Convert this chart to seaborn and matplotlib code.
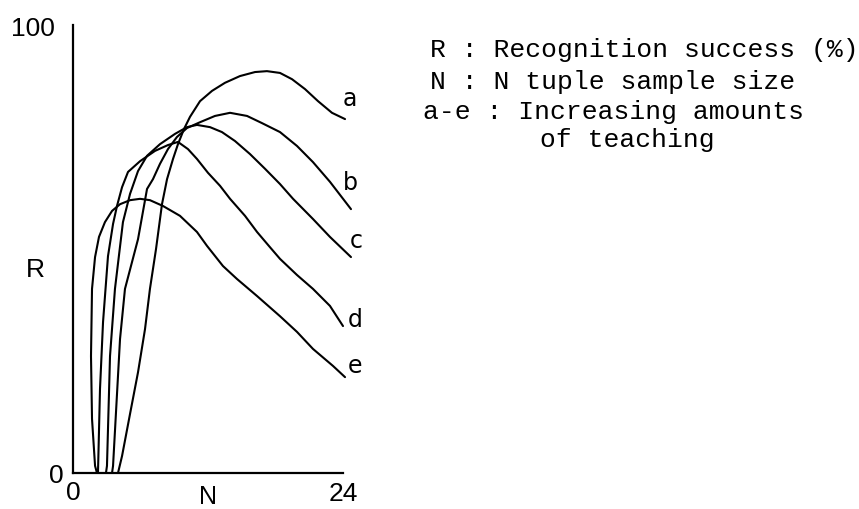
import matplotlib
matplotlib.use("Agg")
import matplotlib.pyplot as plt
import seaborn as sns
import pandas as pd

# Recognition success R (%) against N tuple sample size, for five teaching levels
a_x = [4.0, 4.36, 5.07, 5.78, 6.4, 6.84, 7.38, 7.91, 8.36, 8.89, 9.33, 9.87, 10.4, 11.29,
       12.36, 13.51, 14.84, 16.18, 17.24, 18.4, 19.47, 20.62, 21.78, 23.02, 24.18]
a_y = [0, 3.8, 13.2, 22.5, 32.1, 41.1, 50.0, 60.0, 65.6, 70.1, 73.4, 76.8, 79.5, 83.0,
       85.3, 87.1, 88.6, 89.5, 89.7, 89.3, 87.9, 85.7, 83.0, 80.4, 79.0]

b_x = [3.47, 3.56, 4.18, 4.62, 5.78, 6.58, 7.11, 7.73, 8.44, 9.24, 10.13, 11.29, 12.62,
       13.96, 15.47, 16.8, 18.4, 19.91, 21.33, 22.84, 24.71]
b_y = [0, 1.6, 29.9, 41.1, 52.2, 63.4, 65.6, 69.0, 72.3, 75.0, 77.0, 78.3, 79.7,
       80.4, 79.7, 78.1, 76.1, 73.0, 69.4, 65.0, 58.9]

c_x = [2.93, 3.02, 3.29, 3.73, 4.44, 5.07, 5.78, 6.58, 7.73, 9.07, 10.13, 11.02, 12.18,
       13.24, 14.4, 15.73, 17.07, 18.4, 19.56, 21.33, 22.84, 24.71]
c_y = [0, 1.6, 26.1, 41.1, 56.0, 62.3, 67.4, 70.8, 73.4, 75.7, 77.2, 77.7, 77.2,
       76.1, 74.1, 71.2, 67.9, 64.5, 61.2, 56.7, 52.7, 48.2]

d_x = [2.22, 2.4, 2.67, 3.11, 3.56, 3.91, 4.36, 4.89, 5.96, 7.29, 8.44, 9.33, 10.22,
       11.02, 12.0, 13.07, 13.96, 15.29, 16.36, 17.51, 18.4, 19.91, 21.33, 22.84, 24.0]
d_y = [0, 18.75, 33.7, 48.4, 55.6, 59.6, 63.8, 67.2, 69.6, 71.9, 73.2, 73.9, 72.3,
       70.1, 67.0, 64.1, 61.2, 57.4, 53.8, 50.4, 47.8, 44.2, 41.1, 37.3, 32.8]

e_x = [2.13, 1.96, 1.69, 1.60, 1.69, 1.96, 2.31, 2.84, 3.47, 4.18, 5.07, 5.96, 6.84,
       8.0, 9.51, 11.02, 11.91, 13.33, 14.58, 16.36, 18.4, 19.91, 21.33, 23.11, 24.18]
e_y = [0, 1.6, 12.1, 26.1, 41.1, 48.2, 52.7, 56.0, 58.5, 60.0, 60.9, 61.2, 60.9,
       59.6, 57.4, 53.8, 50.7, 46.2, 43.3, 39.5, 35.0, 31.5, 27.7, 23.9, 21.4]

curve_names = ["a", "b", "c", "d", "e"]
curve_xs = [a_x, b_x, c_x, d_x, e_x]
curve_ys = [a_y, b_y, c_y, d_y, e_y]

# where each curve's letter sits, next to its right-hand end
label_x = [24.0, 24.0, 24.62, 24.44, 24.44]
label_y = [83.7, 65.0, 52.0, 34.4, 24.1]

legend_lines = [
    "R : Recognition success (%)",
    "N : N tuple sample size",
    "a-e : Increasing amounts",
    "of teaching",
]

sns.set_theme(style="white")
plt.rcParams["font.family"] = ["Liberation Sans", "DejaVu Sans"]

fig = plt.figure(figsize=(8.59, 5.10), dpi=100)
ax = fig.add_axes([73 / 859, 36 / 510, 270 / 859, 448 / 510])

for name, xs, ys in zip(curve_names, curve_xs, curve_ys):
    df = pd.DataFrame({"N": xs, "R": ys})
    sns.lineplot(data=df, x="N", y="R", sort=False, estimator=None, ax=ax,
                 color="black", linewidth=1.5, clip_on=False)

for name, lx, ly in zip(curve_names, label_x, label_y):
    ax.text(lx, ly, name, ha="left", va="center", fontsize=17,
            family="DejaVu Sans", color="black", clip_on=False)

ax.set_xlim(0, 24)
ax.set_ylim(0, 100)

for side in ("top", "right"):
    ax.spines[side].set_visible(False)
for side in ("left", "bottom"):
    ax.spines[side].set_linewidth(1.6)
    ax.spines[side].set_color("black")

# end ticks: 100 on R, 24 on N; zeros as unmarked labels
ax.set_yticks([100], labels=["100"])
ax.set_yticks([0], labels=["0"], minor=True)
ax.set_xticks([24], labels=["24"])
ax.set_xticks([0], labels=["0"], minor=True)
ax.tick_params(axis="y", which="major", direction="inout", length=12, width=1.6,
               pad=7, labelsize=19, colors="black")
ax.tick_params(axis="y", which="minor", length=0, pad=7, labelsize=19, colors="black")
ax.tick_params(axis="x", which="major", direction="inout", length=7, width=1.6,
               pad=2, labelsize=19, colors="black")
ax.tick_params(axis="x", which="minor", length=0, pad=5, labelsize=19, colors="black")
ax.grid(False)

ax.set_xlabel("N", fontsize=18, color="black")
ax.xaxis.label.set_va("center")
ax.xaxis.set_label_coords(0.5, -0.052)
ax.set_ylabel("R", fontsize=19, color="black", rotation=0)
ax.yaxis.label.set_va("center")
ax.yaxis.set_label_coords(-0.141, 0.455)

legend_pos = [(430, 50), (430, 82), (423, 112), (540, 140)]
for text, (px, py) in zip(legend_lines, legend_pos):
    fig.text(px / 859, 1 - py / 510, text, ha="left", va="center",
             fontsize=19, family="Liberation Mono", color="black")

fig.savefig("out.png", dpi=100)
